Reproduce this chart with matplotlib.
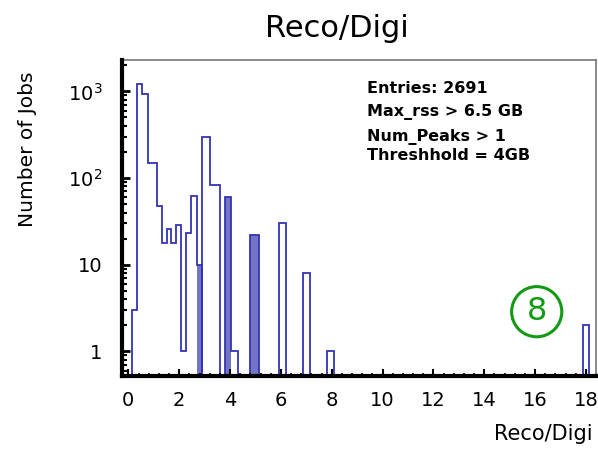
import matplotlib
matplotlib.use("Agg")
import matplotlib.pyplot as plt
import numpy as np
from matplotlib.ticker import FixedLocator, FixedFormatter, MultipleLocator, NullFormatter

# ------------------------------------------------------------
# Datos (leídos del histograma)
# ------------------------------------------------------------
bordes = [0.15, 0.35, 0.55, 0.77, 1.12, 1.32, 1.52, 1.67, 1.88, 2.07,
          2.27, 2.45, 2.69, 2.88, 2.91, 3.21, 3.60, 3.82, 4.05, 4.30,
          4.79, 5.15, 5.94, 6.20, 6.88, 7.15, 7.80, 8.08, 17.90, 18.14]
cuentas = [3, 1200, 940, 150, 47, 18, 26, 18, 29, 1,
           23, 62, 10, 0, 300, 84, 0, 61, 1, 0,
           22, 0, 30, 0, 8, 0, 1, 0, 2]

# bins que en la imagen original se ven rellenos
bins_rellenos = [12, 17, 20]

ticks_y = [1, 10, 100, 1000]
etiquetas_y = ["1", "10", "$10^{2}$", "$10^{3}$"]
ticks_x = [0, 2, 4, 6, 8, 10, 12, 14, 16, 18]

lineas_stats = ["Entries: 2691", "Max_rss > 6.5 GB", "Num_Peaks > 1", "Threshhold = 4GB"]
base_stats = [93, 116, 141, 160]

# ------------------------------------------------------------
# Figura
# ------------------------------------------------------------
W, H = 598, 449
fig = plt.figure(figsize=(W / 100, H / 100), dpi=100)
ax = fig.add_axes([122 / W, 1 - 376 / H, (596 - 122) / W, (376 - 60) / H])

# los bins vacíos se mandan por debajo del eje (escala log)
piso = 1e-3
valores = np.where(np.array(cuentas) > 0, cuentas, piso)

relleno = np.full(len(valores), piso)
relleno[bins_rellenos] = valores[bins_rellenos]
ax.stairs(relleno, bordes, baseline=piso, fill=True, color="#7474c6", linewidth=0)

ax.stairs(valores, bordes, baseline=piso, color="#3434b4", linewidth=1.3)

ax.set_yscale("log")
ax.set_xlim(-0.25, 18.4)
ax.set_ylim(0.52, 2300)

ax.xaxis.set_major_locator(FixedLocator(ticks_x))
ax.xaxis.set_minor_locator(MultipleLocator(0.4))
ax.yaxis.set_major_locator(FixedLocator(ticks_y))
ax.yaxis.set_major_formatter(FixedFormatter(etiquetas_y))
ax.yaxis.set_minor_formatter(NullFormatter())

ax.tick_params(axis="x", which="major", direction="in", length=5, width=1.5,
               labelsize=14, pad=11, top=False)
ax.tick_params(axis="x", which="minor", direction="in", length=2.5, width=1.2, top=False)
ax.tick_params(axis="y", which="major", direction="in", length=6, width=2,
               labelsize=14, pad=14, right=False)
ax.tick_params(axis="y", which="minor", direction="in", length=3.5, width=1.5, right=False)

for lado in ["left", "bottom"]:
    ax.spines[lado].set_linewidth(3)
    ax.spines[lado].set_color("black")
    ax.spines[lado].set_zorder(5)
for lado in ["top", "right"]:
    ax.spines[lado].set_linewidth(1.2)
    ax.spines[lado].set_color("#777777")

# ------------------------------------------------------------
# Textos
# ------------------------------------------------------------
fig.text(337 / W, 1 - 37 / H, "Reco/Digi", ha="center", va="baseline", fontsize=22)
fig.text(28 / W, 1 - 149 / H, "Number of Jobs", rotation=90,
         ha="center", va="center", fontsize=14.5)
fig.text(593 / W, 1 - 440 / H, "Reco/Digi", ha="right", va="baseline", fontsize=15)

for texto, y in zip(lineas_stats, base_stats):
    fig.text(367 / W, 1 - y / H, texto, ha="left", va="baseline",
             fontsize=11.5, fontweight="bold")

fig.text(536.7 / W, 1 - 311.7 / H, "8", ha="center", va="center",
         fontsize=23, color="#139a13",
         bbox=dict(boxstyle="circle,pad=0.3", facecolor="none",
                   edgecolor="#139a13", linewidth=2.2))

fig.savefig("out.png", dpi=100)
